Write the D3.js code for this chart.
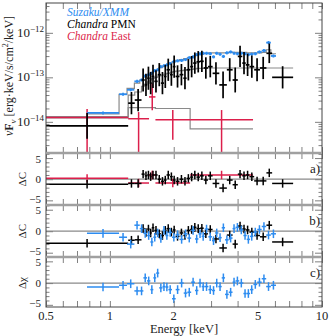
<!DOCTYPE html>
<html lang="en">
<head>
  <meta charset="UTF-8">
  <title>Spectrum fit</title>
  <style>
    body { margin: 0; background: #fff; }
    svg { display: block; font-family: "Liberation Serif", "DejaVu Serif", serif; }
    .tick line { stroke: #808080; }
  </style>
</head>
<body>
  <script src="https://cdnjs.cloudflare.com/ajax/libs/d3/7.8.5/d3.min.js"></script>
  <svg></svg>
  <script>
    // ---- data (energies in keV, fluxes as log10 erg/cm2/s) ----
    // Suzaku/XMM
    var blueEdges = [0.78, 1.105, 1.205, 1.305, 1.383, 1.439, 1.497, 1.552, 1.603, 1.653, 1.708,
      1.771, 1.827, 1.887, 1.963, 2.043, 2.13, 2.229, 2.319, 2.417, 2.52, 2.614, 2.709, 2.799,
      2.914, 3.031, 3.132, 3.248, 3.367, 3.491, 3.634, 3.787, 3.912, 4.073, 4.261, 4.416, 4.579,
      4.749, 4.95, 5.197, 5.456, 5.74, 6.07];
    var blueFlux = [-13.80, -13.38, -13.28, -13.09, -13.06, -12.97, -12.94, -12.91, -12.85, -12.83,
      -12.76, -12.74, -12.72, -12.69, -12.65, -12.63, -12.62, -12.60, -12.56, -12.54, -12.49, -12.47,
      -12.46, -12.46, -12.47, -12.54, -12.46, -12.48, -12.53, -12.45, -12.43, -12.46, -12.47, -12.46,
      -12.47, -12.49, -12.48, -12.47, -12.43, -12.40, -12.22, -12.52];
    var blueModel = [-13.82, -13.38, -13.25, -13.13, -13.06, -12.99, -12.94, -12.89, -12.86, -12.83,
      -12.78, -12.75, -12.72, -12.68, -12.65, -12.62, -12.60, -12.58, -12.56, -12.54, -12.51, -12.49,
      -12.47, -12.46, -12.45, -12.45, -12.45, -12.45, -12.45, -12.45, -12.44, -12.44, -12.44, -12.44,
      -12.44, -12.45, -12.45, -12.45, -12.45, -12.44, -12.38, -12.47];
    var blueResB = [-0.5, -1.4, -3.0, 1.4, 0.6, -0.5, -1.0, -2.5, -1.4, -0.4, -1.7, 0.2, -1.0, -0.3,
      -1.4, -0.8, -1.9, -0.6, -1.6, 0.2, -1.8, -0.6, -1.2, 0.5, -1.3, -2.2, -0.4, -1.5, 0.8, -2.0,
      -1.6, 0.6, 0.9, 0.3, -1.0, -1.9, -1.2, -0.2, 0.4, 1.1, -0.9, -0.6];
    var blueResC = [-0.9, -0.5, -0.15, -1.8, -1.8, 1.2, 0.5, -1.5, 1.2, 2.3, -1.1, -0.8, -0.9, -1.5,
      -3.6, -1.5, 0, -2.3, -2.1, 0.2, -1.7, 0, -0.8, -0.8, -1.5, -1.7, 0, -0.8, 1.2, -2.6, -2.1, 0.2,
      0.5, 0, -2.4, -2.4, -1.5, -0.3, 0.2, 1.0, -0.8, -0.5];
    var blueFluxErr = 0.035;

    // Chandra PMN
    var blackEdges = [0.5, 1.22, 1.31, 1.41, 1.46, 1.50, 1.54, 1.575, 1.62, 1.68, 1.74, 1.80, 1.85,
      1.92, 1.98, 2.04, 2.13, 2.22, 2.30, 2.39, 2.47, 2.56, 2.66, 2.77, 2.90, 3.05, 3.28, 3.56, 3.79,
      4.01, 4.21, 4.37, 4.55, 4.79, 5.10, 5.47, 5.82, 7.31];
    var blackFlux = [-14.09, -13.58, -13.51, -13.06, -13.17, -13.02, -13.13, -12.98, -13.09, -12.94,
      -13.13, -12.98, -12.83, -12.94, -12.76, -12.98, -12.94, -13.02, -12.83, -12.76, -12.68, -12.65,
      -12.64, -12.79, -12.76, -12.91, -13.17, -12.83, -13.06, -12.53, -12.68, -12.72, -12.76, -12.83,
      -12.79, -12.46, -13.00];
    var blackFluxErr = [0.29, 0.25, 0.25, 0.26, 0.25, 0.26, 0.25, 0.26, 0.25, 0.26, 0.25, 0.26, 0.25,
      0.25, 0.25, 0.25, 0.24, 0.25, 0.24, 0.24, 0.24, 0.24, 0.24, 0.24, 0.24, 0.25, 0.3, 0.26, 0.28,
      0.24, 0.25, 0.25, 0.25, 0.26, 0.25, 0.22, 0.25];
    var blackModel = [-13.88, -13.40, -13.33, -13.20, -13.15, -13.10, -13.06, -13.03, -13.00, -12.97,
      -12.95, -12.93, -12.91, -12.89, -12.87, -12.86, -12.85, -12.84, -12.83, -12.82, -12.81, -12.80,
      -12.80, -12.79, -12.79, -12.79, -12.79, -12.79, -12.79, -12.79, -12.79, -12.79, -12.79, -12.79,
      -12.79, -12.79, -12.79];
    var blackResA = [-1.2, -1.0, -1.0, 1.2, 0.8, 1.0, 0.6, 1.0, 1.0, 0.0, -0.5, -0.2, 1.0, 0.6, -0.2,
      -0.5, 0.0, -0.5, 0.2, 0.5, 1.0, 0.5, 0.8, -0.2, 0.8, -1.0, -2.1, -0.2, -1.3, 1.2, 0.8, 1.0, 0.6,
      -0.4, -0.4, 1.5, -1.0];
    var blackResB = [-2.8, -2.1, -2.0, 0.6, -0.3, 0.5, -0.4, 0.8, 0.2, -0.6, -1.0, 0.2, 0.6, -0.2,
      0.3, -1.2, -0.4, -1.0, 0.2, 0.4, 0.9, 0.6, 0.7, -0.6, 0.4, -1.8, -3.9, -0.9, -3.0, 1.2, 0.5, 0.3,
      -0.2, -1.0, -1.3, 1.4, -2.5];

    // Chandra East
    var redEdges = [0.5, 1.22, 1.53, 1.64, 2.39, 4.73];
    var redFlux = [-13.90, -13.93, -13.44, -13.955, -13.955];
    var redErrUp = [0.19, 0.15, 0.3, 0.22, 0.22];
    var redErrDown = [1.0, 1.0, 0.3, 0.45, 1.0];
    var redModel = [-13.91, -13.68, -13.68, -13.70, -14.16];
    var redResA = [0.2, -0.9, 1.0, -0.9, 1.0];

    var resErr = 1;

    var xMajor = [0.5, 1, 2, 5, 10];
    var xMinor = [0.6, 0.7, 0.8, 0.9, 3, 4, 6, 7, 8, 9];
    var xLabels = ['0.5', '1', '2', '5', '10'];
    var decades = [-14, -13, -12];

    // ---- layout ----
    var width = 332, height = 336;
    var left = 46, right = 322;
    var pTop = [3, 153], pA = [153, 205], pB = [205, 257], pC = [257, 307];
    var blue = '#2d8cf0', red = '#dc1f4b', gray = '#8a8a8a';

    var svg = d3.select('svg').attr('width', width).attr('height', height);

    var x = d3.scaleLog().domain([0.5, 10]).range([left, right]);
    var yTop = d3.scaleLog().domain([Math.pow(10, -14.7), Math.pow(10, -11.33)]).range([pTop[1], pTop[0]]);
    var yA = d3.scaleLinear().domain([-6.1, 6.2]).range([pA[1], pA[0]]);
    var yB = d3.scaleLinear().domain([-6.0, 6.1]).range([pB[1], pB[0]]);
    var yC = d3.scaleLinear().domain([-5.5, 6.0]).range([pC[1], pC[0]]);

    function bins(edges) {
      return d3.range(edges.length - 1).map(function(i) {
        return {lo: edges[i], hi: edges[i + 1], mid: Math.sqrt(edges[i] * edges[i + 1])};
      });
    }
    var blueBins = bins(blueEdges), blackBins = bins(blackEdges), redBins = bins(redEdges);

    function fluxRows(b, vals, up, down) {
      return b.map(function(d, i) {
        var u = Array.isArray(up) ? up[i] : up, w = Array.isArray(down) ? down[i] : (down === undefined ? u : down);
        return {lo: d.lo, hi: d.hi, mid: d.mid, v: Math.pow(10, vals[i]),
                v0: Math.pow(10, vals[i] - w), v1: Math.pow(10, vals[i] + u)};
      });
    }
    function resRows(b, vals) {
      return b.map(function(d, i) {
        return {lo: d.lo, hi: d.hi, mid: d.mid, v: vals[i], v0: vals[i] - resErr, v1: vals[i] + resErr};
      });
    }

    // clip paths
    var defs = svg.append('defs');
    [['cTop', pTop], ['cA', pA], ['cB', pB], ['cC', pC]].forEach(function(p) {
      defs.append('clipPath').attr('id', p[0]).append('rect')
        .attr('x', left).attr('y', p[1][0]).attr('width', right - left).attr('height', p[1][1] - p[1][0]);
    });

    function crosses(g, rows, ys, color, sw) {
      var c = g.append('g').attr('stroke', color).attr('stroke-width', sw)
        .selectAll('g').data(rows).enter().append('g');
      c.append('line')
        .attr('x1', function(d) { return x(d.lo); }).attr('x2', function(d) { return x(d.hi); })
        .attr('y1', function(d) { return ys(d.v); }).attr('y2', function(d) { return ys(d.v); });
      c.append('line')
        .attr('x1', function(d) { return x(d.mid); }).attr('x2', function(d) { return x(d.mid); })
        .attr('y1', function(d) { return ys(d.v0); }).attr('y2', function(d) { return ys(d.v1); });
    }

    function stepModel(g, edges, vals, ys) {
      var pts = [];
      vals.forEach(function(v, i) {
        pts.push([edges[i], Math.pow(10, v)]);
        pts.push([edges[i + 1], Math.pow(10, v)]);
      });
      g.append('path')
        .attr('d', d3.line().x(function(d) { return x(d[0]); }).y(function(d) { return ys(d[1]); })(pts))
        .attr('fill', 'none').attr('stroke', gray).attr('stroke-width', 1.2);
    }

    function zeroLine(g, ys) {
      g.append('line').attr('x1', left).attr('x2', right)
        .attr('y1', ys(0)).attr('y2', ys(0))
        .attr('stroke', gray).attr('stroke-width', 1.2);
    }

    // ---- top panel ----
    var gTop = svg.append('g').attr('clip-path', 'url(#cTop)');
    stepModel(gTop, blueEdges, blueModel, yTop);
    stepModel(gTop, blackEdges, blackModel, yTop);
    stepModel(gTop, redEdges, redModel, yTop);
    crosses(gTop, fluxRows(redBins, redFlux, redErrUp, redErrDown), yTop, red, 1.5);
    crosses(gTop, fluxRows(blueBins, blueFlux, blueFluxErr), yTop, blue, 1.8);
    crosses(gTop, fluxRows(blackBins, blackFlux, blackFluxErr), yTop, '#000', 1.7);

    // ---- panel a ----
    var gA = svg.append('g').attr('clip-path', 'url(#cA)');
    zeroLine(gA, yA);
    crosses(gA, resRows(redBins, redResA), yA, red, 1.5);
    crosses(gA, resRows(blackBins, blackResA), yA, '#000', 1.5);

    // ---- panel b ----
    var gB = svg.append('g').attr('clip-path', 'url(#cB)');
    zeroLine(gB, yB);
    crosses(gB, resRows(blackBins, blackResB), yB, '#000', 1.5);
    crosses(gB, resRows(blueBins, blueResB), yB, blue, 1.5);

    // ---- panel c ----
    var gC = svg.append('g').attr('clip-path', 'url(#cC)');
    zeroLine(gC, yC);
    crosses(gC, resRows(blueBins, blueResC), yC, blue, 1.5);

    // ---- ticks ----
    var axes = svg.append('g');
    function styleAxis(g) { g.select('.domain').remove(); }
    [pTop, pA, pB, pC].forEach(function(p) {
      axes.append('g').attr('transform', 'translate(0,' + p[1] + ')')
        .call(d3.axisBottom(x).tickValues(xMajor.concat(xMinor)).tickSize(-6).tickFormat('')).call(styleAxis);
      axes.append('g').attr('transform', 'translate(0,' + p[0] + ')')
        .call(d3.axisTop(x).tickValues(xMajor.concat(xMinor)).tickSize(-6).tickFormat('')).call(styleAxis);
    });

    var topMajor = decades.map(function(e) { return Math.pow(10, e); });
    var topMinor = [];
    [-15, -14, -13, -12].forEach(function(e) {
      d3.range(2, 10).forEach(function(m) {
        var v = m * Math.pow(10, e);
        if (v > yTop.domain()[0] && v < yTop.domain()[1]) topMinor.push(v);
      });
    });
    function yTicks(ys, major, minor) {
      [[major, 7], [minor, 3.5]].forEach(function(t) {
        axes.append('g').attr('transform', 'translate(' + left + ',0)')
          .call(d3.axisLeft(ys).tickValues(t[0]).tickSize(-t[1]).tickFormat('')).call(styleAxis);
        axes.append('g').attr('transform', 'translate(' + right + ',0)')
          .call(d3.axisRight(ys).tickValues(t[0]).tickSize(-t[1]).tickFormat('')).call(styleAxis);
      });
    }
    yTicks(yTop, topMajor, topMinor);
    var resMajor = [-5, 0, 5];
    var resMinor = d3.range(-6, 7).filter(function(v) { return v % 5 !== 0; });
    yTicks(yA, resMajor, resMinor.filter(function(v) { return v > -6.1 && v < 6.2; }));
    yTicks(yB, resMajor, resMinor.filter(function(v) { return v > -6 && v < 6.1; }));
    yTicks(yC, resMajor, resMinor.filter(function(v) { return v > -5.5 && v < 6; }));

    // frame and separators
    svg.append('rect').attr('x', left).attr('y', pTop[0]).attr('width', right - left).attr('height', pC[1] - pTop[0])
      .attr('fill', 'none').attr('stroke', '#444').attr('stroke-width', 1);
    [pA[0], pB[0], pC[0]].forEach(function(y) {
      svg.append('line').attr('x1', left).attr('x2', right).attr('y1', y).attr('y2', y)
        .attr('stroke', '#a0a0a0').attr('stroke-width', 2.6);
    });

    // ---- labels ----
    var lab = svg.append('g').attr('fill', '#222').attr('font-size', 13);
    xMajor.forEach(function(v, i) {
      lab.append('text').attr('x', x(v)).attr('y', 319.5).attr('text-anchor', 'middle')
        .attr('font-size', 12.5).text(xLabels[i]);
    });
    lab.append('text').attr('x', 184).attr('y', 332.5).attr('text-anchor', 'middle')
      .attr('font-size', 12.5).text('Energy [keV]');

    decades.forEach(function(e) {
      var t = lab.append('text').attr('x', 44).attr('y', yTop(Math.pow(10, e)) + 4).attr('text-anchor', 'end');
      t.append('tspan').text('10');
      t.append('tspan').attr('font-size', 9).attr('dy', -5).text('\u2212' + (-e));
    });

    function resLabels(ys) {
      resMajor.forEach(function(v) {
        var off = v > 0 ? 4.5 : (v < 0 ? 2.5 : 3.5);
        lab.append('text').attr('x', 41).attr('y', ys(v) + off).attr('text-anchor', 'end')
          .attr('font-size', 11)
          .text(v < 0 ? '\u2212' + (-v) : String(v));
      });
    }
    resLabels(yA); resLabels(yB); resLabels(yC);

    function rotLabel(txt, y) {
      lab.append('text').attr('transform', 'translate(26,' + y + ') rotate(-90)')
        .attr('text-anchor', 'middle').attr('font-size', 11).text(txt);
    }
    rotLabel('\u0394C', yA(0)); rotLabel('\u0394C', yB(0)); rotLabel('\u0394\u03c7', yC(0));

    var yt = lab.append('text').attr('transform', 'translate(13,76) rotate(-90)')
      .attr('text-anchor', 'middle').attr('font-size', 12);
    yt.append('tspan').attr('font-style', 'italic').text('\u03bd');
    yt.append('tspan').attr('font-weight', 'bold').text('F');
    yt.append('tspan').attr('font-style', 'italic').attr('font-size', 9).attr('dy', 3).text('\u03bd');
    yt.append('tspan').attr('dy', -3).text(' [erg\u00b7keV/s/cm');
    yt.append('tspan').attr('font-size', 8).attr('dy', -5).text('2');
    yt.append('tspan').attr('dy', 5).text('/keV]');

    [['a)', pA], ['b)', pB], ['c)', pC]].forEach(function(p) {
      lab.append('text').attr('x', 320).attr('y', p[1][0] + 20).attr('text-anchor', 'end').text(p[0]);
    });

    // legend
    var lg = svg.append('g').attr('font-size', 11.5);
    lg.append('text').attr('x', 67).attr('y', 16).attr('fill', blue).attr('font-style', 'italic').text('Suzaku/XMM');
    var l2 = lg.append('text').attr('x', 67).attr('y', 28).attr('fill', '#000');
    l2.append('tspan').attr('font-style', 'italic').text('Chandra');
    l2.append('tspan').text(' PMN');
    var l3 = lg.append('text').attr('x', 67).attr('y', 40).attr('fill', red);
    l3.append('tspan').attr('font-style', 'italic').text('Chandra');
    l3.append('tspan').text(' East');
  </script>
</body>
</html>
